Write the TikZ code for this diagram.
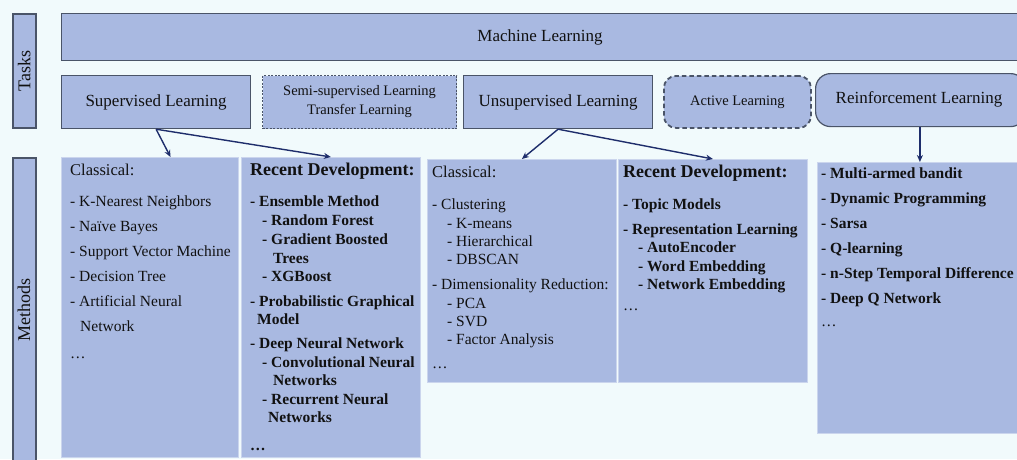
\documentclass[tikz,border=0pt]{standalone}
\usepackage{fontspec}
\setmainfont{Liberation Serif}
\usetikzlibrary{calc,arrows.meta}
\definecolor{bg}{HTML}{F1FAFC}
\definecolor{boxfill}{HTML}{A9B9E1}
\definecolor{boxline}{HTML}{4A5468}
\definecolor{arrowc}{HTML}{1E2D6B}
\definecolor{ink}{HTML}{111111}
\begin{document}
\begin{tikzpicture}[x=1pt,y=-1pt,
  taskbox/.style={draw=boxline, line width=1.2pt, fill=boxfill, inner sep=0pt,
    anchor=north west, text=ink, font=\fontsize{17}{20}\selectfont},
  sidebox/.style={draw=boxline, line width=1.6pt, fill=boxfill, inner sep=0pt,
    anchor=north west, text=ink, font=\fontsize{18}{20}\selectfont},
  panel/.style={fill=boxfill, draw=boxfill!60!white, line width=0.8pt,
    inner sep=0pt, anchor=north west},
  entry/.style={anchor=west, inner sep=0pt, text=ink, text height=10pt, text depth=3pt,
    font=\fontsize{15.5}{17}\selectfont},
  bentry/.style={entry, font=\bfseries\fontsize{15.5}{17}\selectfont},
  head/.style={entry, font=\fontsize{16.5}{18}\selectfont},
  bhead/.style={entry, font=\bfseries\fontsize{18}{20}\selectfont},
  link/.style={draw=arrowc, line width=1.4pt, -{Stealth[length=7pt,width=6pt]}}
]
\fill[bg] (0,0) rectangle (1017,459);
\useasboundingbox (0,0) rectangle (1017,459);
\clip (0,0) rectangle (1017,459);

% side labels
\node[sidebox, minimum width=23pt, minimum height=114pt] (tasks) at (12,13) {};
\node[rotate=90, text=ink, font=\fontsize{18}{20}\selectfont] (taskslbl) at (tasks.center) {Tasks};
\node[sidebox, minimum width=23pt, minimum height=320pt] (methods) at (12,157) {};
\node[rotate=90, text=ink, font=\fontsize{18}{20}\selectfont] (methodslbl) at (24,310) {Methods};

% task boxes
\node[taskbox, minimum width=962pt, minimum height=47pt] (ml) at (61,13) {};
\node[text=ink, font=\fontsize{17}{20}\selectfont] (mllbl) at (540,37) {Machine Learning};
\node[taskbox, minimum width=189pt, minimum height=53pt] (sup) at (61,75) {Supervised Learning};
\node[taskbox, draw=boxline, dash pattern=on 2pt off 1.5pt, line width=1pt, minimum width=194pt, minimum height=53pt,
  align=center, font=\fontsize{14.5}{19}\selectfont] (semi) at (262,75)
  {Semi-supervised Learning\\Transfer Learning};
\node[taskbox, minimum width=189pt, minimum height=53pt] (unsup) at (463,75) {Unsupervised Learning};
\node[taskbox, dash pattern=on 4.5pt off 3pt, line width=1.8pt, rounded corners=12pt, minimum width=147pt, minimum height=52pt,
  font=\fontsize{14.5}{17}\selectfont] (active) at (663,75) {Active Learning};
\node[taskbox, rounded corners=15pt, minimum width=210pt, minimum height=53pt] (rl) at (815,73) {};
\node[text=ink, font=\fontsize{17}{20}\selectfont] (rllbl) at (919,99) {Reinforcement Learning};

% method panels
\node[panel, minimum width=177pt, minimum height=300pt] (supcls) at (61,157) {};
\node[panel, minimum width=179pt, minimum height=300pt] (suprec) at (241,157) {};
\node[panel, minimum width=189pt, minimum height=223pt] (uncls) at (427,159) {};
\node[panel, minimum width=189pt, minimum height=223pt] (unrec) at (618,159) {};
\node[panel, minimum width=205pt, minimum height=271pt] (rlm) at (817,162) {};

% connectors
\draw[link] (sup.south) -- ($(supcls.north west)!0.616!(supcls.north east)$);
\draw[link] (sup.south) -- (suprec.north);
\draw[link] (unsup.south) -- (uncls.north);
\draw[link] (unsup.south) -- (unrec.north);
\draw[link] (rl.south -| rlm.north) -- (rlm.north);

% supervised, classical
\node[head] (sc0) at (70,172) {Classical:};
\foreach \px/\py/\txt [count=\i] in {
  70/203/{- K-Nearest Neighbors},
  70/228/{- Naïve Bayes},
  70/253/{- Support Vector Machine},
  70/278/{- Decision Tree},
  70/303/{- Artificial Neural},
  80/328/{Network},
  70/355/{\ldots}}
  \node[entry] (sc\i) at (\px,\py) {\txt};

% supervised, recent
\node[bhead] (sr0) at (250,172) {Recent Development:};
\foreach \px/\py/\txt [count=\i] in {
  250/203/{- Ensemble Method},
  262/222/{- Random Forest},
  262/241/{- Gradient Boosted},
  273/260/{Trees},
  262/278/{- XGBoost},
  250/303/{- Probabilistic Graphical},
  257/321/{Model},
  250/345/{- Deep Neural Network},
  262/364/{- Convolutional Neural},
  273/382/{Networks},
  262/401/{- Recurrent Neural},
  268/419/{Networks},
  250/447/{\ldots}}
  \node[bentry] (sr\i) at (\px,\py) {\txt};

% unsupervised, classical
\node[head] (uc0) at (432,174) {Classical:};
\foreach \px/\py/\txt [count=\i] in {
  432/206/{- Clustering},
  447/225/{- K-means},
  447/243/{- Hierarchical},
  447/261/{- DBSCAN},
  432/286/{- Dimensionality Reduction:},
  447/305/{- PCA},
  447/323/{- SVD},
  447/341/{- Factor Analysis},
  432/365/{\ldots}}
  \node[entry] (uc\i) at (\px,\py) {\txt};

% unsupervised, recent
\node[bhead] (ur0) at (623,174) {Recent Development:};
\foreach \px/\py/\txt [count=\i] in {
  623/206/{- Topic Models},
  623/231/{- Representation Learning},
  638/249/{- AutoEncoder},
  638/268/{- Word Embedding},
  638/286/{- Network Embedding}}
  \node[bentry] (ur\i) at (\px,\py) {\txt};
\node[entry] (ur6) at (623,307) {\ldots};

% reinforcement
\foreach \px/\py/\txt [count=\i] in {
  821/175/{- Multi-armed bandit},
  821/200/{- Dynamic Programming},
  821/225/{- Sarsa},
  821/250/{- Q-learning},
  821/275/{- n-Step Temporal Difference},
  821/300/{- Deep Q Network}}
  \node[bentry] (rm\i) at (\px,\py) {\txt};
\node[entry] (rm7) at (821,323) {\ldots};
\end{tikzpicture}
\end{document}
